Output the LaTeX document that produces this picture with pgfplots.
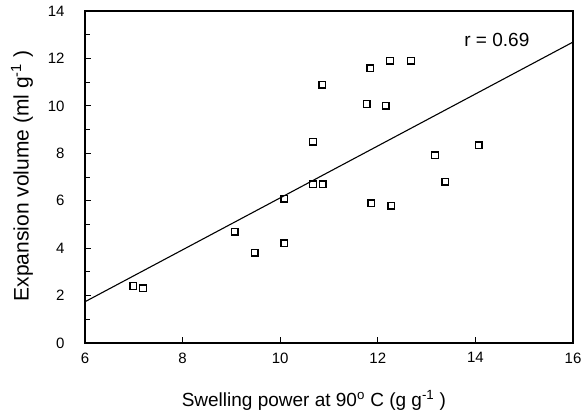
\documentclass[border=0pt]{standalone}
\usepackage{fontspec}
\setmainfont{Liberation Sans}
\usepackage{pgfplots}
\pgfplotsset{compat=1.18}
\begin{document}
\begin{tikzpicture}[x=1pt,y=1pt]
\useasboundingbox (0,0) rectangle (585,413);
\begin{axis}[
  at={(85pt,70pt)}, anchor=south west,
  scale only axis, width=488pt, height=332pt,
  xmin=6, xmax=16, ymin=0, ymax=14,
  xtick={6,8,...,16}, ytick={0,2,...,14},
  minor ytick={1,3,...,13},
  tick align=inside, tick pos=left,
  major tick length=6pt, minor tick length=5pt,
  every tick/.style={line width=1pt, black},
  axis line style={line width=1.3pt},
  /pgf/number format/assume math mode=true,
  xticklabel={\fontsize{15}{17}\selectfont\pgfmathprintnumber{\tick}},
  yticklabel={\fontsize{15}{17}\selectfont\pgfmathprintnumber{\tick}},
  xticklabel style={yshift=-6pt},
  yticklabel style={xshift=-17pt},
  xlabel={Swelling power at 90\textsuperscript{o}~C (g g\textsuperscript{-1} )},
  ylabel={Expansion volume (ml g\textsuperscript{-1} )},
  xlabel style={font=\fontsize{19}{22}\selectfont, at={(axis description cs:0.469,-0.19)}, anchor=base},
  ylabel style={font=\fontsize{21}{24}\selectfont, at={(axis description cs:-0.129,0.503)}, anchor=center, rotate=0},
]
\addplot[black, line width=1.1pt, no marks] coordinates {(6,1.74) (16,12.69)};
\addplot[only marks, mark=square, mark size=3.3pt, mark options={line width=1.4pt, black}] coordinates {
(6.99,2.40) (7.19,2.31)
(9.07,4.70) (9.48,3.80) (10.08,6.09) (10.08,4.21)
(10.67,6.69) (10.87,6.69) (10.86,10.89) (10.67,8.49)
(11.85,11.59) (12.25,11.90) (12.68,11.90) (11.77,10.08) (12.16,10.00)
(13.17,7.92) (14.07,8.33) (13.38,6.81) (11.87,5.89) (12.28,5.79)
};
\node[font=\fontsize{19}{22}\selectfont] at (axis cs:14.44,12.78) {r = 0.69};
\end{axis}
\end{tikzpicture}
\end{document}
